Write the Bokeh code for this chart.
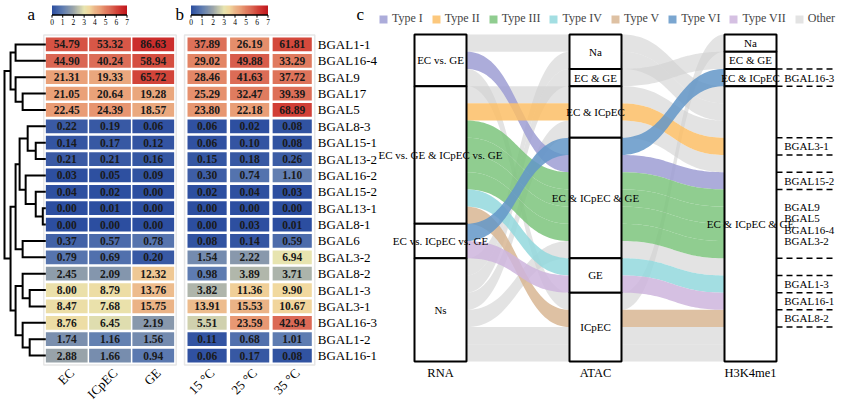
import numpy as np
from bokeh.plotting import figure
from bokeh.models import Range1d, ColumnDataSource, LinearColorMapper, Legend, LegendItem
from bokeh.core.properties import value
from bokeh.embed import file_html
from bokeh.resources import INLINE

# ---------------- data ----------------
genes = ["BGAL1-1", "BGAL16-4", "BGAL9", "BGAL17", "BGAL5", "BGAL8-3", "BGAL15-1",
         "BGAL13-2", "BGAL16-2", "BGAL15-2", "BGAL13-1", "BGAL8-1", "BGAL6", "BGAL3-2",
         "BGAL8-2", "BGAL1-3", "BGAL3-1", "BGAL16-3", "BGAL1-2", "BGAL16-1"]
tissues = ["EC", "ICpEC", "GE"]
expr_EC = [54.79, 44.90, 21.31, 21.05, 22.45, 0.22, 0.14, 0.21, 0.03, 0.04,
           0.00, 0.00, 0.37, 0.79, 2.45, 8.00, 8.47, 8.76, 1.74, 2.88]
expr_ICpEC = [53.32, 40.24, 19.33, 20.64, 24.39, 0.19, 0.17, 0.21, 0.05, 0.02,
              0.01, 0.00, 0.57, 0.69, 2.09, 8.79, 7.68, 6.45, 1.16, 1.66]
expr_GE = [86.63, 58.94, 65.72, 19.28, 18.57, 0.06, 0.12, 0.16, 0.09, 0.00,
           0.00, 0.00, 0.78, 0.20, 12.32, 13.76, 15.75, 2.19, 1.56, 0.94]
temps = ["15 °C", "25 °C", "35 °C"]
expr_15 = [37.89, 29.02, 28.46, 25.29, 23.80, 0.06, 0.06, 0.15, 0.30, 0.02,
           0.00, 0.00, 0.08, 1.54, 0.98, 3.82, 13.91, 5.51, 0.11, 0.06]
expr_25 = [26.19, 49.88, 41.63, 32.47, 22.18, 0.02, 0.10, 0.18, 0.74, 0.04,
           0.00, 0.03, 0.14, 2.22, 3.89, 11.36, 15.53, 23.59, 0.68, 0.17]
expr_35 = [61.81, 33.29, 37.72, 39.39, 68.89, 0.08, 0.08, 0.26, 1.10, 0.03,
           0.00, 0.01, 0.59, 6.94, 3.71, 9.90, 10.67, 42.94, 1.01, 0.08]
cbar_ticks = [0, 1, 2, 3, 4, 5, 6, 7]

# dendrogram merges (ids >= 20 refer to earlier merges)
dend_a = [0, 3, 2, 20, 6, 5, 10, 9, 8, 25, 12, 29, 15, 14, 18, 17, 33, 31, 23]
dend_b = [1, 4, 21, 22, 7, 24, 11, 26, 27, 28, 13, 30, 16, 32, 19, 34, 35, 36, 37]
dend_h = [30, 23, 30, 35, 10, 18, 3, 10, 20, 26, 23, 30, 16, 23, 16, 23, 30, 35, 41]

# alluvial data
axis_names = ["RNA", "ATAC", "H3K4me1"]
rna_strata = ["EC vs. GE", "EC vs. GE & ICpEC vs. GE", "EC vs. ICpEC vs. GE", "Ns"]
atac_strata = ["Na", "EC & GE", "EC & ICpEC", "EC & ICpEC & GE", "GE", "ICpEC"]
h3_strata = ["Na", "EC & GE", "EC & ICpEC", "EC & ICpEC & GE"]
flow_gene = ["", "BGAL15-2", "", "", "BGAL3-1", "BGAL9", "BGAL5", "BGAL16-4", "BGAL3-2",
             "BGAL1-3", "BGAL8-2", "BGAL16-3", "BGAL16-1", "", "", "", "", "", ""]
flow_type = ["Other", "Type I", "Other", "Other", "Type II", "Type III", "Type III",
             "Type III", "Type III", "Type IV", "Type V", "Type VI", "Type VII",
             "Other", "Other", "Other", "Other", "Other", "Other"]
flow_rna = ["EC vs. GE", "EC vs. GE", "EC vs. GE", "EC vs. GE & ICpEC vs. GE",
            "EC vs. GE & ICpEC vs. GE", "EC vs. GE & ICpEC vs. GE", "EC vs. GE & ICpEC vs. GE",
            "EC vs. GE & ICpEC vs. GE", "EC vs. GE & ICpEC vs. GE", "EC vs. GE & ICpEC vs. GE",
            "EC vs. GE & ICpEC vs. GE", "EC vs. ICpEC vs. GE", "EC vs. ICpEC vs. GE",
            "Ns", "Ns", "Ns", "Ns", "Ns", "Ns"]
flow_atac = ["Na", "EC & ICpEC & GE", "ICpEC", "EC & ICpEC", "EC & ICpEC",
             "EC & ICpEC & GE", "EC & ICpEC & GE", "EC & ICpEC & GE", "EC & ICpEC & GE",
             "GE", "ICpEC", "EC & ICpEC & GE", "GE",
             "Na", "EC & GE", "EC & ICpEC", "EC & ICpEC & GE", "ICpEC", "ICpEC"]
flow_h3 = ["EC & ICpEC & GE", "EC & ICpEC & GE", "Na", "EC & ICpEC & GE", "EC & ICpEC & GE",
           "EC & ICpEC & GE", "EC & ICpEC & GE", "EC & ICpEC & GE", "EC & ICpEC & GE",
           "EC & ICpEC & GE", "EC & ICpEC & GE", "EC & ICpEC", "EC & ICpEC & GE",
           "EC & ICpEC & GE", "EC & GE", "EC & ICpEC & GE", "EC & ICpEC & GE",
           "EC & ICpEC & GE", "EC & ICpEC & GE"]
type_names = ["Type I", "Type II", "Type III", "Type IV", "Type V", "Type VI", "Type VII", "Other"]
type_colors = ["#9d9dd3", "#fbbe66", "#7cc47c", "#93d8dd", "#d8b693", "#6397c8", "#ceb5dd", "#d0d0d0"]

# ---------------- figure ----------------
W, H = 844, 403
SERIF = value("Liberation Serif")
p = figure(width=W, height=H, x_range=Range1d(8, 8 + W), y_range=Range1d(8 + H, 8),
           output_backend="svg", toolbar_location=None, x_axis_location=None,
           y_axis_location=None, min_border=0, outline_line_color=None)
p.grid.visible = False
p.background_fill_color = "white"
p.border_fill_color = "white"


def xr(pa, va, pb, vb):
    s = (vb - va) / (pb - pa)
    return Range1d(va + (8 - pa) * s, va + (8 + W - pa) * s)


def yr(pa, va, pb, vb):
    s = (vb - va) / (pb - pa)
    return Range1d(va + (8 + H - pa) * s, va + (8 - pa) * s)


p.extra_x_ranges = {"hxa": xr(52.6, 0, 182.4, 3), "hxb": xr(193.3, 0, 321.0, 3),
                    "dend": xr(53.3, 0, 12, 41), "cba": xr(59.5, 0, 134.5, 7),
                    "cbb": xr(198.5, 0, 275.5, 7), "sx": xr(448, 0, 758, 2)}
p.extra_y_ranges = {"hy": yr(43.7, 0, 371.3, 20), "cby": yr(22.5, 0, 13, 1),
                    "sy": yr(42, 0, 369, 19)}

# palette (log2(x+1) scale 0..7)
anchors = [(0.0, (44, 78, 160)), (1.0, (95, 125, 178)), (2.0, (156, 166, 170)),
           (3.0, (232, 229, 176)), (3.5, (242, 216, 158)), (4.0, (236, 182, 137)),
           (4.5, (234, 160, 120)), (5.0, (226, 128, 98)), (5.5, (219, 104, 84)),
           (6.0, (212, 72, 60)), (6.5, (204, 45, 44)), (7.0, (192, 24, 30))]
grid = np.linspace(0, 7, 256)
ap = [a[0] for a in anchors]
chans = [np.interp(grid, ap, [a[1][c] for a in anchors]) for c in range(3)]
palette = ["#%02x%02x%02x" % (int(r), int(g), int(b)) for r, g, b in zip(*chans)]
mapper = LinearColorMapper(palette=palette, low=0, high=7)

ng = len(genes)


def heat(cols, series, xname, cw):
    xs, ys, vals, labs = [], [], [], []
    for j, ser in enumerate(series):
        for i, v in enumerate(ser):
            xs.append(j + 0.5); ys.append(i + 0.5)
            vals.append(np.log2(v + 1)); labs.append("%.2f" % v)
    src = ColumnDataSource(dict(x=xs, y=ys, lv=vals, lab=labs))
    p.rect(x=len(cols) / 2, y=ng / 2, width=len(cols) + 0.06, height=ng + 0.15,
           fill_color=None, line_color="#e6e6e6", line_width=1.5,
           x_range_name=xname, y_range_name="hy")
    p.rect(x="x", y="y", width=cw, height=0.84, source=src,
           fill_color={"field": "lv", "transform": mapper}, line_color=None,
           x_range_name=xname, y_range_name="hy")
    p.text(x="x", y="y", text="lab", source=src, text_align="center", text_baseline="middle",
           text_font=SERIF, text_font_size="11.5px", text_font_style="bold",
           text_color="#1a1a1a", x_range_name=xname, y_range_name="hy")
    p.text(x=[j + 0.62 for j in range(len(cols))], y=[ng + 0.42] * len(cols), text=cols,
           angle=np.pi / 4, text_align="right", text_baseline="middle",
           text_font=SERIF, text_font_size="13px", text_color="black",
           x_range_name=xname, y_range_name="hy")


heat(tissues, [expr_EC, expr_ICpEC, expr_GE], "hxa", 0.965)
heat(temps, [expr_15, expr_25, expr_35], "hxb", 0.92)

# gene names
p.text(x=[len(temps) + 0.1] * ng, y=[i + 0.5 for i in range(ng)], text=genes,
       text_align="left", text_baseline="middle", text_font=SERIF, text_font_size="13px",
       text_color="black", x_range_name="hxb", y_range_name="hy")

# dendrogram
pos = {i: (0.0, i + 0.5) for i in range(ng)}
dxs, dys = [], []
for k, (a, b, h) in enumerate(zip(dend_a, dend_b, dend_h)):
    ha, ya = pos[a]
    hb, yb = pos[b]
    dxs.append([ha, h, h, hb]); dys.append([ya, ya, yb, yb])
    pos[ng + k] = (h, (ya + yb) / 2)
p.multi_line(dxs, dys, line_color="black", line_width=2, line_join="miter",
             x_range_name="dend", y_range_name="hy")

# colour bars
for xname in ("cba", "cbb"):
    p.image(image=[np.linspace(0, 7, 256).reshape(1, 256)], x=0, y=0, dw=7, dh=1,
            color_mapper=mapper, x_range_name=xname, y_range_name="cby")
    p.segment(x0=[0], y0=[0], x1=[7], y1=[0], line_color="black", line_width=1.3,
              x_range_name=xname, y_range_name="cby")
    p.segment(x0=cbar_ticks, y0=[0] * 8, x1=cbar_ticks, y1=[-0.28] * 8, line_color="black",
              line_width=1, x_range_name=xname, y_range_name="cby")
    p.text(x=cbar_ticks, y=[-0.75] * 8, text=[str(t) for t in cbar_ticks], text_align="center",
           text_baseline="middle", text_font=SERIF, text_font_size="7.5px", text_color="black",
           x_range_name=xname, y_range_name="cby")

# panel letters
p.text(x=[35, 183, 364], y=[22, 22, 22], text=["a", "b", "c"], text_align="left",
       text_baseline="alphabetic", text_font=SERIF, text_font_size="17px", text_color="black")

# ---------------- alluvial ----------------
n = len(flow_type)
strata = [rna_strata, atac_strata, h3_strata]
cats = [flow_rna, flow_atac, flow_h3]
sidx = [[strata[a].index(c) for c in cats[a]] for a in range(3)]
key_axes = [(0, 1, 2), (1, 2, 0), (2, 1, 0)]
slot = [[0] * n for _ in range(3)]
for a in range(3):
    order = sorted(range(n), key=lambda i: tuple(sidx[k][i] for k in key_axes[a]) + (i,))
    for ps, i in enumerate(order):
        slot[a][i] = ps

hw = 26 / 155.0
tt = np.linspace(0, 1, 48)


def band(x0, x1, y0, y1):
    dx = x1 - x0
    bx = ((1 - tt) ** 3 * x0 + 3 * (1 - tt) ** 2 * tt * (x0 + 0.5 * dx)
          + 3 * (1 - tt) * tt ** 2 * (x1 - 0.5 * dx) + tt ** 3 * x1)
    by = y0 + (y1 - y0) * (3 * tt ** 2 - 2 * tt ** 3)
    xs = list(bx) + list(bx[::-1])
    ys = list(by) + list((by + 1)[::-1])
    return xs, ys


renderers = {}
for t, col in zip(["Other"] + type_names[:-1], [type_colors[-1]] + type_colors[:-1]):
    pxs, pys = [], []
    for i in range(n):
        if flow_type[i] != t:
            continue
        for a in range(2):
            xs, ys = band(a + hw, a + 1 - hw, slot[a][i], slot[a + 1][i])
            pxs.append(xs); pys.append(ys)
    alpha = 0.6 if t == "Other" else 0.85
    renderers[t] = p.patches(pxs, pys, fill_color=col, fill_alpha=alpha, line_color=None,
                             x_range_name="sx", y_range_name="sy")

# strata boxes and labels
bx_, by_, bh_, lx, ly, lt = [], [], [], [], [], []
for a in range(3):
    for s, name in enumerate(strata[a]):
        mem = [slot[a][i] for i in range(n) if sidx[a][i] == s]
        if not mem:
            continue
        top, bot = min(mem), max(mem) + 1
        bx_.append(a); by_.append((top + bot) / 2); bh_.append(bot - top)
        lx.append(a); ly.append((top + bot) / 2); lt.append(name)
p.rect(x=bx_, y=by_, width=2 * hw, height=bh_, fill_color="white", line_color="black",
       line_width=2, x_range_name="sx", y_range_name="sy")
p.text(x=lx, y=ly, text=lt, text_align="center", text_baseline="middle", text_font=SERIF,
       text_font_size="11px", text_color="black", x_range_name="sx", y_range_name="sy")
p.text(x=[0, 1, 2], y=[n + 0.65] * 3, text=axis_names, text_align="center",
       text_baseline="middle", text_font=SERIF, text_font_size="12.5px", text_color="black",
       x_range_name="sx", y_range_name="sy")

# gene brackets at the last axis
lines_y = set()
gx, gy, gt = [], [], []
for t in type_names[:-1]:
    mem = sorted((slot[2][i], flow_gene[i]) for i in range(n) if flow_type[i] == t)
    top, bot = mem[0][0], mem[-1][0] + 1
    lines_y.add(top); lines_y.add(bot)
    c = (top + bot) / 2
    m = len(mem)
    for k, (_, g) in enumerate(mem):
        gx.append(2 + hw + 0.05); gy.append(c + (k - (m - 1) / 2) * 0.67); gt.append(g)
ly_sorted = sorted(lines_y)
p.segment(x0=[2 + hw] * len(ly_sorted), y0=ly_sorted, x1=[2.545] * len(ly_sorted), y1=ly_sorted,
          line_color="black", line_width=1.5, line_dash="6 4",
          x_range_name="sx", y_range_name="sy")
p.text(x=gx, y=gy, text=gt, text_align="left", text_baseline="middle", text_font=SERIF,
       text_font_size="11px", text_color="black", x_range_name="sx", y_range_name="sy")

# legend
legend = Legend(items=[LegendItem(label=t, renderers=[renderers[t]]) for t in type_names],
                orientation="horizontal", location=(378, 377), glyph_width=10, glyph_height=10,
                label_standoff=4, spacing=8, padding=0, margin=0, border_line_alpha=0,
                background_fill_alpha=0, label_text_font="Liberation Serif",
                label_text_font_size="12px", label_height=12)
p.add_layout(legend)

open("out.html", "w").write(file_html(p, INLINE))
